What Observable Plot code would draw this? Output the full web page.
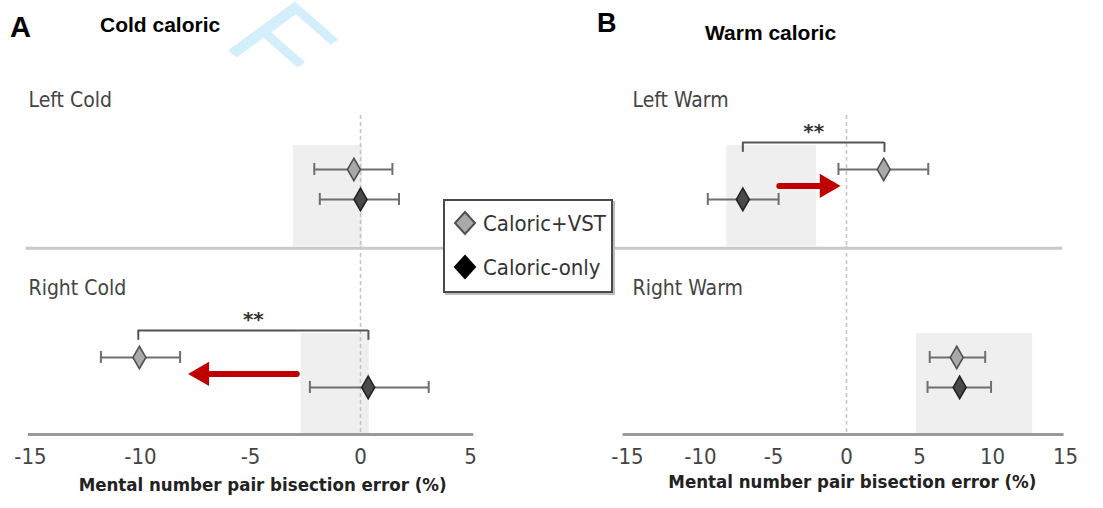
<!DOCTYPE html>
<html><head><meta charset="utf-8">
<script src="https://cdn.jsdelivr.net/npm/d3@7"></script>
<script src="https://cdn.jsdelivr.net/npm/@observablehq/plot@0.6"></script>
<style>
body{margin:0;background:#fff;}
#wrap{position:relative;width:1103px;height:508px;overflow:hidden;background:#fff;}
.title{position:absolute;font-family:'Liberation Sans',Arial,sans-serif;font-weight:bold;color:#000;white-space:nowrap;line-height:1;z-index:3;}
.panel{position:absolute;top:0;z-index:1;}
#legend{position:absolute;left:443px;top:199px;width:166px;height:90px;border:2px solid #4a4a4a;box-shadow:2px 2px 0 #bdbdbd;background:#fff;
  font-family:'Liberation Sans Narrow','DejaVu Sans Condensed',sans-serif;font-size:22px;color:#333;z-index:5;}
#legend .item{position:absolute;left:8px;display:flex;align-items:center;white-space:nowrap;}
#legend svg{margin-right:6px;}
#wm{position:absolute;left:0;top:0;z-index:2;pointer-events:none;}
</style></head>
<body><div id="wrap">
<div class="panel" id="pa"></div>
<div class="panel" id="pb" style="left:551px"></div>
<svg id="wm" width="400" height="80"><text transform="translate(221,44) scale(1.25,1) rotate(47.5)" font-family="Liberation Sans, Arial, sans-serif" font-size="105" fill="#d3effb">F</text></svg>
<div class="title" style="left:10px;top:13px;font-size:29px">A</div>
<div class="title" style="left:100px;top:14px;font-size:21px">Cold caloric</div>
<div class="title" style="left:597px;top:10px;font-size:27px">B</div>
<div class="title" style="left:705px;top:22px;font-size:21px">Warm caloric</div>
<div id="legend"></div>
</div>
<script>
// ---- data ----
const conditions = ["Caloric+VST", "Caloric-only"];
const groupsA = ["Left Cold", "Right Cold"];
const groupsB = ["Left Warm", "Right Warm"];
// order: Left VST, Left only, Right VST, Right only
const meanA = [-0.3, 0.0, -10.05, 0.35];
const lowA  = [-2.1, -1.85, -11.8, -2.3];
const highA = [1.45, 1.75, -8.2, 3.1];
const meanB = [2.55, -7.1, 7.55, 7.75];
const lowB  = [-0.55, -9.5, 5.7, 5.55];
const highB = [5.6, -4.65, 9.5, 9.9];
// shaded ranges per group (Left, Right)
const shadeLoA = [-3.05, -2.7], shadeHiA = [0.1, 0.4];
const shadeLoB = [-8.2, 4.8],   shadeHiB = [-2.05, 12.75];
// significance brackets and shift arrows
const bracketA = [-10.1, 0.36], bracketB = [-7.1, 2.6];
const arrowA = [-2.9, -7.7], arrowB = [-4.6, -0.6];
const starsLabel = "**";
const ticksA = [-15, -10, -5, 0, 5];
const ticksB = [-15, -10, -5, 0, 5, 10, 15];
const axisTitle = "Mental number pair bisection error (%)";

// ---- layout (row units inside each facet) ----
const L = {yMin: -3.7, yMax: 2.57, label: -2.3, dashTop: -1.8, bracket: -0.9, bracketTick: 0.33,
           shadeTop: -0.8, arrow: 0.55, cap: 0.2, sep: 2.63};
const FONT = "'Liberation Sans Narrow','DejaVu Sans Condensed',sans-serif";
const fmt = d => d < 0 ? "-" + Math.abs(d) : String(d);

function panel(cfg) {
  const rows = cfg.means.map((m, i) => ({group: cfg.groups[Math.floor(i / 2)], cond: conditions[i % 2], row: i % 2, mean: m, lo: cfg.lows[i], hi: cfg.highs[i]}));
  const shades = cfg.shadeLo.map((lo, i) => ({group: cfg.groups[i], lo, hi: cfg.shadeHi[i]}));
  const brackets = [{group: cfg.bracketGroup, x1: cfg.bracket[0], x2: cfg.bracket[1]}];
  const arrows = [{group: cfg.arrowGroup, from: cfg.arrow[0], to: cfg.arrow[1]}];
  const dir = Math.sign(cfg.arrow[1] - cfg.arrow[0]);
  const dash = cfg.groups.map((g, i) => ({group: g, top: i === 0 ? L.dashTop : L.yMin}));
  const vst = rows.filter(d => d.cond === conditions[0]);
  const only = rows.filter(d => d.cond === conditions[1]);
  return Plot.plot({
    width: cfg.width, height: 508, marginTop: 58, marginBottom: 74, marginLeft: cfg.ml, marginRight: cfg.mr,
    style: {fontFamily: FONT, fontSize: "22px", color: "#444", background: "transparent", overflow: "visible"},
    fy: {domain: cfg.groups, padding: 0, axis: null, label: null},
    y: {domain: [L.yMin, L.yMax], reverse: true, axis: null},
    x: {domain: cfg.domain, ticks: cfg.ticks, tickSize: 0, tickPadding: 14, tickFormat: fmt, label: null},
    marks: [
      Plot.rect(shades, {x1: "lo", x2: "hi", y1: () => L.shadeTop, y2: () => L.yMax, fy: "group", fill: "#efefef"}),
      Plot.ruleX(dash, {x: () => 0, y1: "top", y2: () => L.yMax, fy: "group", stroke: "#c4c4c4", strokeWidth: 1.5, strokeDasharray: "4,3"}),
      Plot.ruleY([cfg.groups[0]], {fy: d => d, y: () => L.sep, x1: () => cfg.sepX[0], x2: () => cfg.sepX[1], stroke: "#c9c9c9", strokeWidth: 3}),
      Plot.ruleY([cfg.groups[1]], {fy: d => d, y: () => L.yMax, x1: () => cfg.axisX[0], x2: () => cfg.axisX[1], stroke: "#9a9a9a", strokeWidth: 3}),
      Plot.ruleY(rows, {y: "row", x1: "lo", x2: "hi", fy: "group", stroke: "#6e6e6e", strokeWidth: 2}),
      Plot.ruleX(rows, {x: "lo", y1: d => d.row - L.cap, y2: d => d.row + L.cap, fy: "group", stroke: "#6e6e6e", strokeWidth: 2}),
      Plot.ruleX(rows, {x: "hi", y1: d => d.row - L.cap, y2: d => d.row + L.cap, fy: "group", stroke: "#6e6e6e", strokeWidth: 2}),
      Plot.dot(vst, {x: "mean", y: "row", fy: "group", symbol: "diamond", r: 6.8, fill: "#a9a9a9", stroke: "#505050", strokeWidth: 1.6}),
      Plot.dot(only, {x: "mean", y: "row", fy: "group", symbol: "diamond", r: 6.8, fill: "#4a4a4a", stroke: "#222", strokeWidth: 1.6}),
      Plot.ruleY(brackets, {y: () => L.bracket, x1: "x1", x2: "x2", fy: "group", stroke: "#555", strokeWidth: 2}),
      Plot.ruleX(brackets, {x: "x1", y1: () => L.bracket, y2: () => L.bracket + L.bracketTick, fy: "group", stroke: "#555", strokeWidth: 2}),
      Plot.ruleX(brackets, {x: "x2", y1: () => L.bracket, y2: () => L.bracket + L.bracketTick, fy: "group", stroke: "#555", strokeWidth: 2}),
      Plot.text(brackets, {x: d => (d.x1 + d.x2) / 2, y: () => L.bracket, fy: "group", text: () => starsLabel, dy: -4, lineAnchor: "bottom", fontSize: 20, fontWeight: "bold", fill: "#333", fontFamily: "DejaVu Sans, sans-serif"}),
      Plot.arrow(arrows, {x1: "from", x2: "to", y1: () => L.arrow, y2: () => L.arrow, fy: "group", stroke: "#c00000", strokeWidth: 6, headLength: 0, insetEnd: 12}),
      Plot.dot(arrows, {x: "to", y: () => L.arrow, fy: "group", symbol: "triangle", r: 8, rotate: () => dir * 90, dx: -dir * 11, fill: "#c00000", stroke: "#c00000", strokeWidth: 1.5}),
      Plot.text(cfg.groups, {fy: d => d, x: () => cfg.domain[0], y: () => L.label, text: d => d, textAnchor: "start", dx: cfg.labelDx, fontSize: 21, fill: "#444"}),
      Plot.text([axisTitle], {fy: () => cfg.groups[1], x: () => cfg.titleX, frameAnchor: "bottom", dy: cfg.titleDy, fontSize: 18.5, fontWeight: "bold", fill: "#222"})
    ]
  });
}

document.getElementById("pa").append(panel({
  groups: groupsA, means: meanA, lows: lowA, highs: highA, shadeLo: shadeLoA, shadeHi: shadeHiA,
  bracket: bracketA, bracketGroup: groupsA[1], arrow: arrowA, arrowGroup: groupsA[1],
  domain: [-15, 5], ticks: ticksA, width: 551, ml: 30, mr: 81,
  sepX: [-15.2, 9], axisX: [-15.1, 5.15], labelDx: -2, titleX: -4.45, titleDy: 56
}));
document.getElementById("pb").append(panel({
  groups: groupsB, means: meanB, lows: lowB, highs: highB, shadeLo: shadeLoB, shadeHi: shadeHiB,
  bracket: bracketB, bracketGroup: groupsB[0], arrow: arrowB, arrowGroup: groupsB[0],
  domain: [-15, 15], ticks: ticksB, width: 552, ml: 76, mr: 38,
  sepX: [-16, 14.8], axisX: [-15.3, 14.9], labelDx: 5, titleX: 0.4, titleDy: 53
}));

// ---- legend ----
const legend = document.getElementById("legend");
const legendStyles = [{fill: "#a9a9a9", stroke: "#505050"}, {fill: "#000", stroke: "#000"}];
conditions.forEach((c, i) => {
  const item = document.createElement("div");
  item.className = "item";
  item.style.top = (i === 0 ? 8 : 52) + "px";
  const s = legendStyles[i];
  item.innerHTML = `<svg width="24" height="28" viewBox="-12 -14 24 28"><path d="M0,-11L10,0L0,11L-10,0Z" fill="${s.fill}" stroke="${s.stroke}" stroke-width="2"/></svg><span>${c}</span>`;
  legend.append(item);
});
</script>
</body></html>
